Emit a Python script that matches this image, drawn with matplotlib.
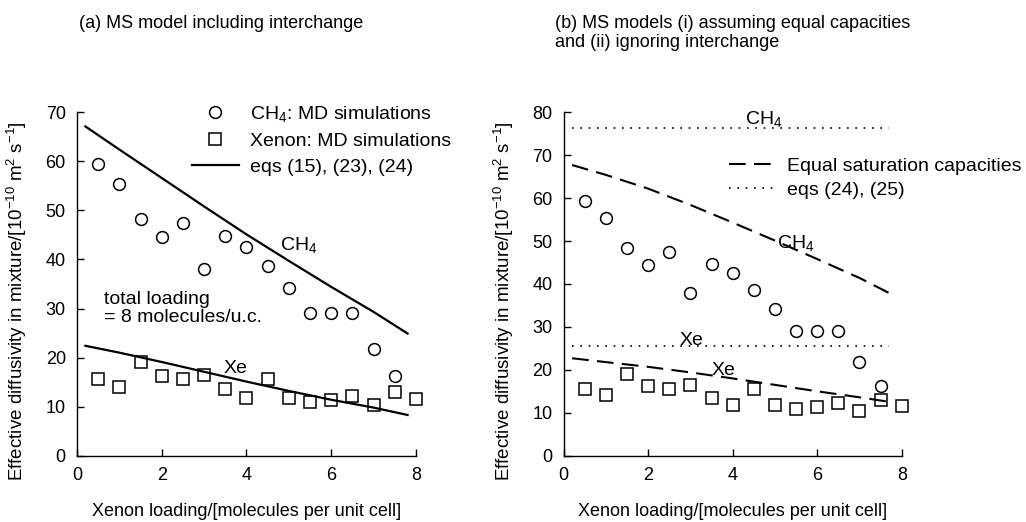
import numpy as np
import matplotlib
matplotlib.use('Agg')
import matplotlib.pyplot as plt

plt.rcParams['font.family'] = ['Liberation Sans', 'DejaVu Sans']
plt.rcParams['mathtext.fontset'] = 'custom'
plt.rcParams['mathtext.rm'] = 'Liberation Sans'
plt.rcParams['mathtext.it'] = 'Liberation Sans'

# MD simulation points (same in both panels)
xe_load = [0.5, 1.0, 1.5, 2.0, 2.5, 3.0, 3.5, 4.0, 4.5, 5.0, 5.5, 6.0, 6.5, 7.0, 7.5]
ch4_md = [59.4, 55.3, 48.3, 44.5, 47.5, 38.0, 44.7, 42.5, 38.6, 34.1, 29.1, 29.0, 29.0, 21.8, 16.2]
xe_load2 = [0.5, 1.0, 1.5, 2.0, 2.5, 3.0, 3.5, 4.0, 4.5, 5.0, 5.5, 6.0, 6.5, 7.0, 7.5, 8.0]
xe_md = [15.6, 14.1, 19.0, 16.3, 15.6, 16.5, 13.5, 11.7, 15.6, 11.8, 10.9, 11.3, 12.2, 10.4, 12.9, 11.5]

# model curves
xm = [0.2, 1, 2, 3, 4, 5, 6, 7, 7.8]
ch4_ms = [67.1, 62.4, 56.6, 50.8, 45.1, 39.7, 34.4, 29.3, 24.9]
xe_ms = [22.4, 21.0, 19.1, 17.1, 15.1, 13.2, 11.4, 9.8, 8.3]
ch4_eq = [67.7, 65.4, 62.2, 58.4, 54.3, 50.1, 45.8, 41.4, 37.4]
xe_eq = [22.7, 21.8, 20.7, 19.4, 18.0, 16.5, 15.0, 13.6, 12.4]
xd = [0.2, 7.7]
ch4_ign = [76.3, 76.3]
xe_ign = [25.6, 25.6]

fig = plt.figure(figsize=(10.26, 5.22), dpi=100)
ax1 = fig.add_axes([0.0750, 0.127, 0.3305, 0.658])
ax2 = fig.add_axes([0.5494, 0.127, 0.3295, 0.658])

def style(ax, ymax):
    ax.set_xlim(0, 8)
    ax.set_ylim(0, ymax)
    ax.spines['top'].set_visible(False)
    ax.spines['right'].set_visible(False)
    ax.set_xticks([0, 2, 4, 6, 8])
    ax.set_yticks(np.arange(0, ymax + 1, 10))
    ax.tick_params(direction='in', length=5, width=1, labelsize=13, pad=8)
    ax.set_xlabel('Xenon loading/[molecules per unit cell]', fontsize=13, labelpad=14)
    ax.set_ylabel('Effective diffusivity in mixture/[10$^{-10}$ m$^2$ s$^{-1}$]', fontsize=13.5)
    ax.yaxis.set_label_coords(-0.14, 0.45)
    for s in ['left', 'bottom']:
        ax.spines[s].set_linewidth(1)

# panel (a)
ax1.plot(xe_load, ch4_md, 'o', ms=8.5, mfc='none', mec='black', mew=1.1, clip_on=False,
         label='CH$_4$: MD simulations')
ax1.plot(xe_load2, xe_md, 's', ms=8, mfc='none', mec='black', mew=1.1, clip_on=False,
         label='Xenon: MD simulations')
ax1.plot(xm, ch4_ms, '-', color='black', lw=1.6, label='eqs (15), (23), (24)')
ax1.plot(xm, xe_ms, '-', color='black', lw=1.6)
style(ax1, 70)
ax1.text(4.8, 43.0, 'CH$_4$', fontsize=14, va='center')
ax1.text(3.45, 17.8, 'Xe', fontsize=14, va='center')
ax1.text(0.64, 30.0, 'total loading\n= 8 molecules/u.c.', fontsize=14, va='center',
         linespacing=1.1)
ax1.legend(loc='upper left', bbox_to_anchor=(192 / 1026, 1 - 104 / 522),
           bbox_transform=fig.transFigure, frameon=False, fontsize=14,
           handlelength=2.4, handletextpad=0.6, labelspacing=0.42, borderpad=0,
           borderaxespad=0)

# panel (b)
ax2.plot(xe_load, ch4_md, 'o', ms=8.5, mfc='none', mec='black', mew=1.1, clip_on=False)
ax2.plot(xe_load2, xe_md, 's', ms=8, mfc='none', mec='black', mew=1.1, clip_on=False)
ax2.plot(xm, ch4_eq, color='black', lw=1.5, dashes=(8, 4), label='Equal saturation capacities')
ax2.plot(xm, xe_eq, color='black', lw=1.5, dashes=(8, 4))
ax2.plot(xd, ch4_ign, color='black', lw=1.2, dashes=(1, 4), label='eqs (24), (25)')
ax2.plot(xd, xe_ign, color='black', lw=1.2, dashes=(1, 4))
style(ax2, 80)
ax2.text(4.29, 78.4, 'CH$_4$', fontsize=14, va='center')
ax2.text(2.75, 26.9, 'Xe', fontsize=14, va='center')
ax2.text(5.04, 49.6, 'CH$_4$', fontsize=14, va='center')
ax2.text(3.49, 19.8, 'Xe', fontsize=14, va='center')
ax2.legend(loc='upper left', bbox_to_anchor=(729 / 1026, 1 - 157 / 522),
           bbox_transform=fig.transFigure, frameon=False, fontsize=14,
           handlelength=2.4, handletextpad=0.6, labelspacing=0.35, borderpad=0,
           borderaxespad=0)

fig.text(79 / 1026, 1 - 23 / 522, '(a) MS model including interchange', fontsize=13, va='center')
fig.text(555 / 1026, 1 - 33 / 522,
         '(b) MS models (i) assuming equal capacities\nand (ii) ignoring interchange',
         fontsize=13, va='center', linespacing=1.1)

fig.savefig('out.png', dpi=100)
